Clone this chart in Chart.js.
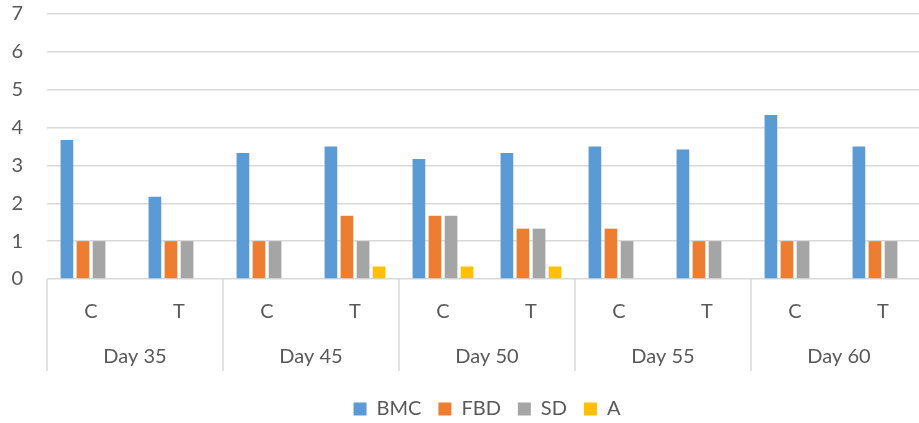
<!DOCTYPE html>
<html>
<head>
<meta charset="utf-8">
<script src="https://cdn.jsdelivr.net/npm/chart.js@4"></script>
<style>
  html, body { margin: 0; padding: 0; background: #fff; overflow: hidden; }
  #wrap { width: 960px; height: 423px; }
</style>
</head>
<body>
<div id="wrap"><canvas id="grafico" width="960" height="423"></canvas></div>
<script>
// Datos del gráfico
const grupos = ['C', 'T', 'C', 'T', 'C', 'T', 'C', 'T', 'C', 'T'];
const dias = ['Day 35', 'Day 45', 'Day 50', 'Day 55', 'Day 60'];
const bmc = [3.67, 2.17, 3.33, 3.5, 3.17, 3.33, 3.5, 3.42, 4.33, 3.5];
const fbd = [1, 1, 1, 1.67, 1.67, 1.33, 1.33, 1, 1, 1];
const sd = [1, 1, 1, 1, 1.67, 1.33, 1, 1, 1, 1];
const a = [0, 0, 0, 0.33, 0.33, 0.33, 0, 0, 0, 0];
const yTicks = [0, 1, 2, 3, 4, 5, 6, 7];

const TEXTO = '#595959';
const LINEA = '#D9D9D9';
const FUENTE = 'Lato, "Open Sans", sans-serif';
const TAM = 20;

// Segundo nivel del eje X (días) y líneas separadoras
const ejeDias = {
    id: 'ejeDias',
    afterDraw(chart){
        const ctx = chart.ctx;
        const x = chart.scales.x;
        const top = chart.chartArea.bottom;
        const porDia = grupos.length / dias.length;
        ctx.save();
        ctx.strokeStyle = LINEA;
        ctx.lineWidth = 1.5;
        for(let i = 0; i <= dias.length; i++){
            const px = x.getPixelForValue(i * porDia - 0.5);
            ctx.beginPath();
            ctx.moveTo(px, top);
            ctx.lineTo(px, top + 92);
            ctx.stroke();
        }
        ctx.fillStyle = TEXTO;
        ctx.font = TAM + 'px ' + FUENTE;
        ctx.textAlign = 'center';
        ctx.textBaseline = 'middle';
        dias.forEach((d, i) => {
            const x0 = x.getPixelForValue(i * porDia - 0.5);
            const x1 = x.getPixelForValue((i + 1) * porDia - 0.5);
            ctx.fillText(d, (x0 + x1) / 2, top + 78);
        });
        ctx.restore();
    }
};

const ctx = document.getElementById('grafico').getContext('2d');
new Chart(ctx, {
    type: 'bar',
    data: {
        labels: grupos,
        datasets: [
            { label: 'BMC', data: bmc, backgroundColor: '#5B9BD5' },
            { label: 'FBD', data: fbd, backgroundColor: '#ED7D31' },
            { label: 'SD', data: sd, backgroundColor: '#A5A5A5' },
            { label: 'A', data: a, backgroundColor: '#FFC000' }
        ]
    },
    options: {
        responsive: false,
        animation: false,
        categoryPercentage: 0.73,
        barPercentage: 0.79,
        layout: { padding: { left: 10, right: 33, top: 14, bottom: -6 } },
        plugins: {
            legend: {
                position: 'bottom',
                fullSize: false,
                labels: {
                    color: TEXTO,
                    font: { size: TAM, family: FUENTE },
                    boxWidth: 13,
                    boxHeight: 13,
                    padding: 17
                }
            },
            tooltip: { enabled: false }
        },
        scales: {
            x: {
                grid: { display: false, drawTicks: false },
                border: { display: false },
                ticks: {
                    color: TEXTO,
                    font: { size: TAM, family: FUENTE },
                    padding: 21
                },
                afterFit(scale){ scale.height = 103; }
            },
            y: {
                min: 0,
                max: 7,
                afterBuildTicks(scale){ scale.ticks = yTicks.map(v => ({ value: v })); },
                grid: { color: LINEA, lineWidth: 1.5, drawTicks: false },
                border: { display: false },
                ticks: {
                    color: TEXTO,
                    font: { size: TAM, family: FUENTE },
                    padding: 24
                },
                afterFit(scale){
                    scale.width = 37;
                    scale.paddingTop = 0;
                    scale.paddingBottom = 0;
                }
            }
        }
    },
    plugins: [ejeDias]
});
</script>
</body>
</html>
